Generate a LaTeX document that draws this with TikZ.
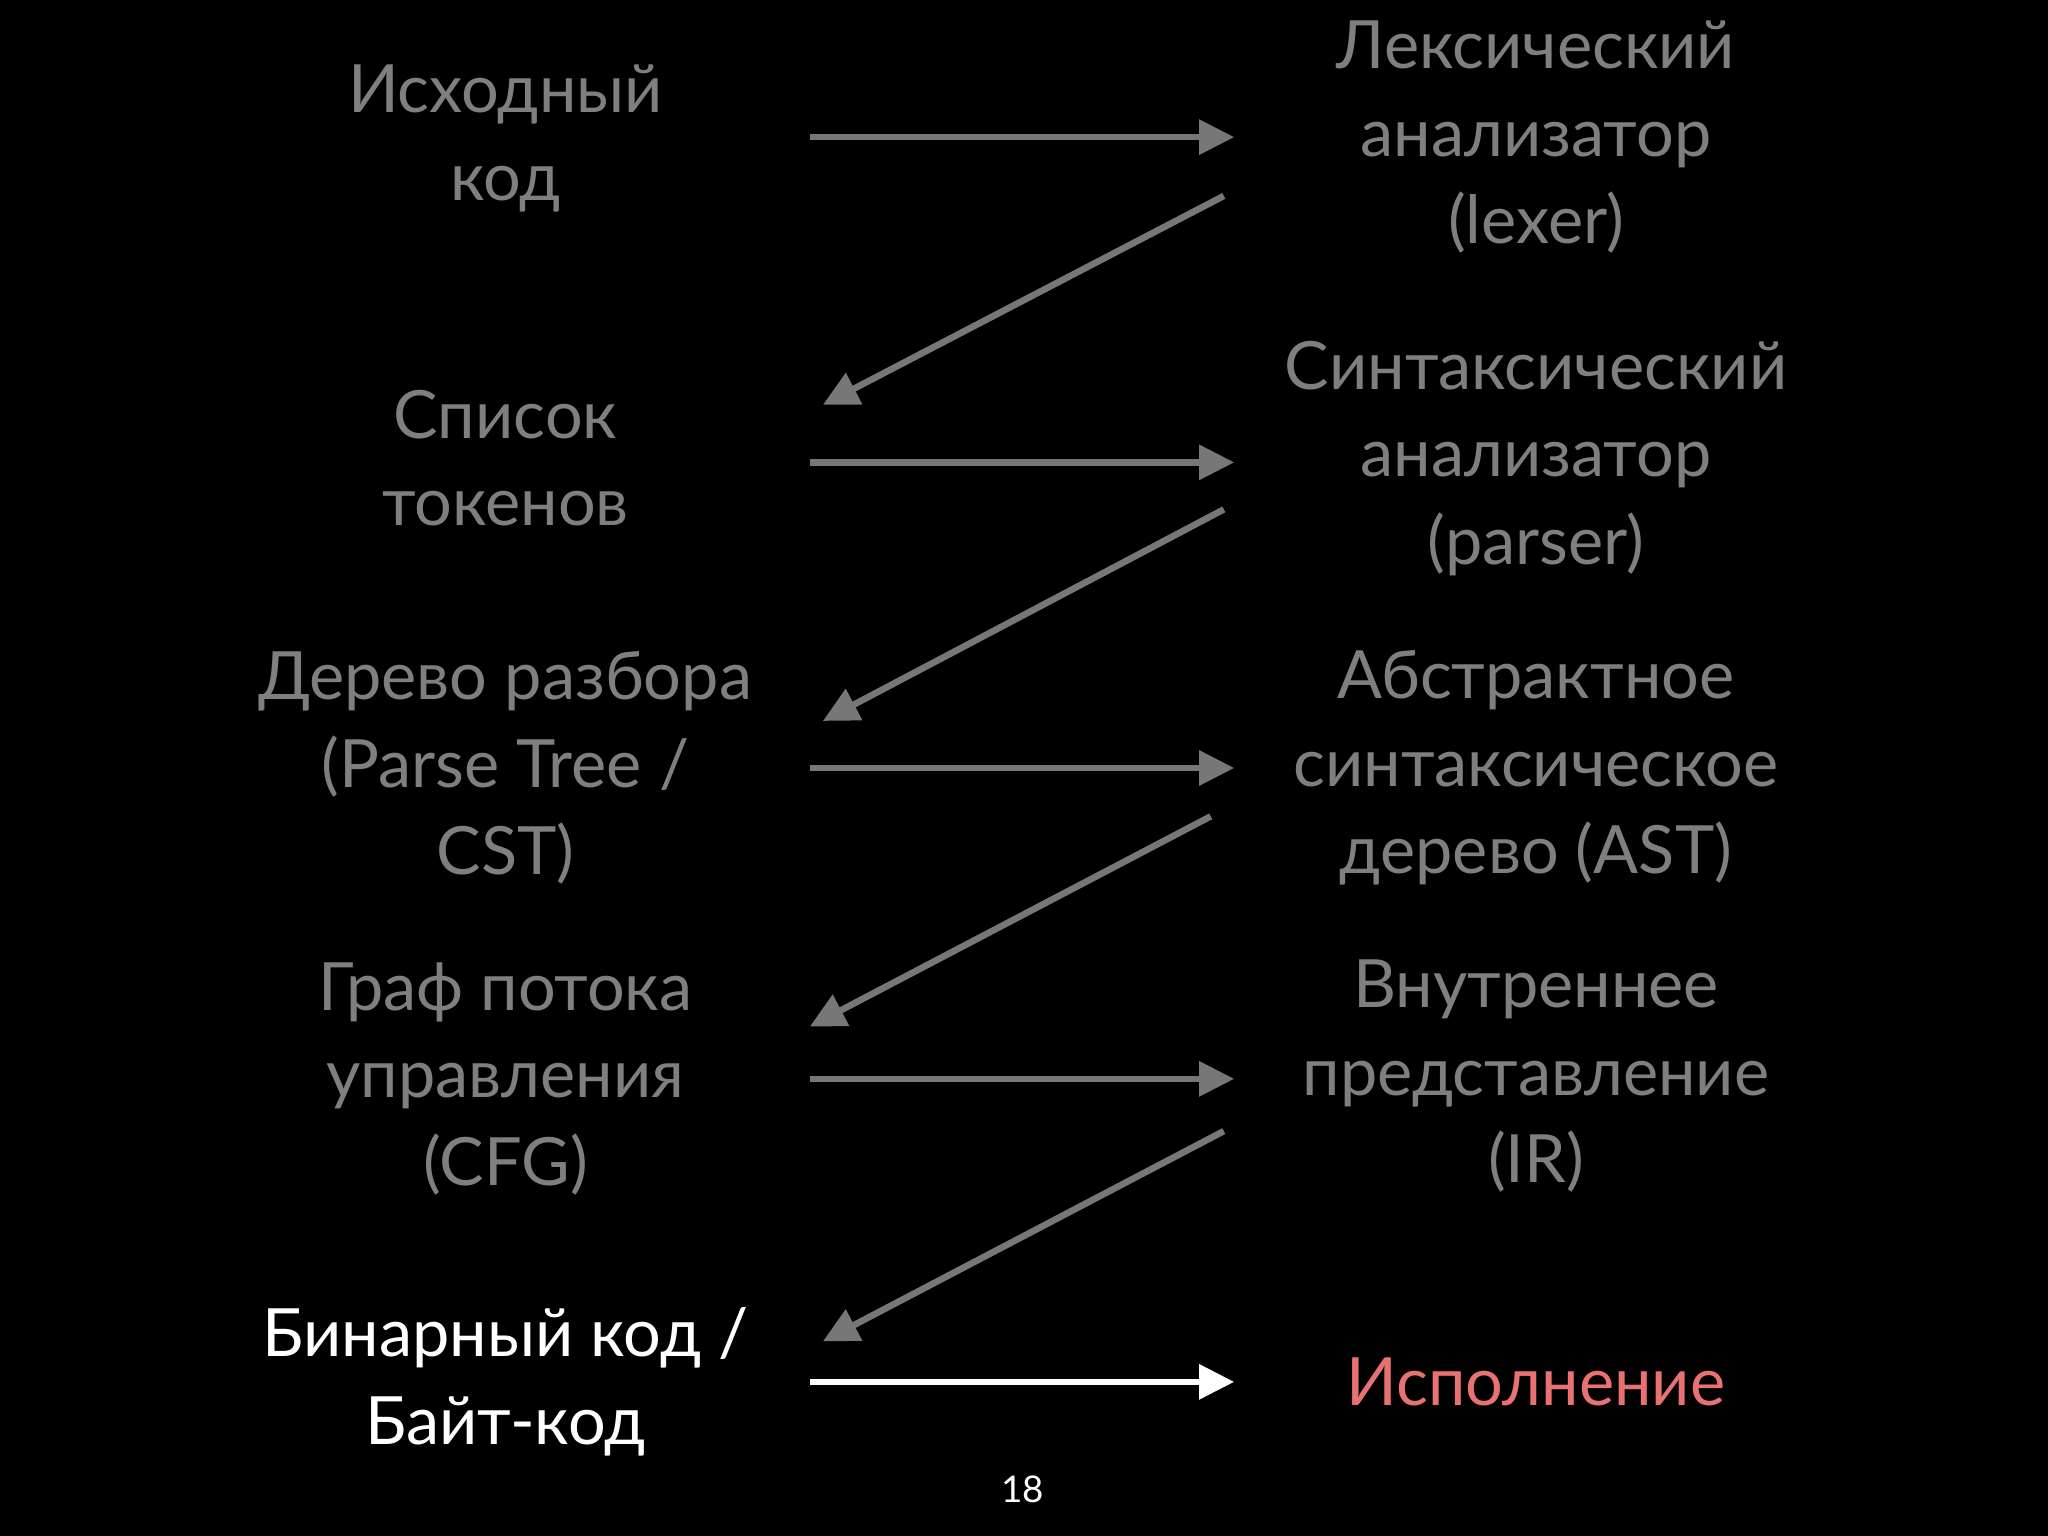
\documentclass[tikz,border=0pt]{standalone}
\usepackage{fontspec}
\setmainfont{Lato}
\usetikzlibrary{arrows.meta}
\definecolor{txt}{HTML}{7F7F7F}
\definecolor{arr}{HTML}{777777}
\definecolor{exec}{HTML}{E87272}
\tikzset{
  lbl/.style={align=center,text=txt,font=\fontsize{14.5pt}{19pt}\selectfont},
  con/.style={draw=arr,line width=0.05cm,-{Triangle[length=0.27cm,width=0.26cm]}}
}
\begin{document}
\begin{tikzpicture}[x=0.01cm,y=-0.01cm]
\fill[black] (0,0) rectangle (1568,1176);
\node[lbl] (src) at (387,106) {Исходный\\код};
\node[lbl] (lex) at (1176,105) {Лексический\\анализатор\\(lexer)};
\node[lbl] (tok) at (387,351) {Список\\токенов};
\node[lbl] (par) at (1176,351) {Синтаксический\\анализатор\\(parser)};
\node[lbl] (cst) at (387,588) {Дерево разбора\\(Parse Tree /\\CST)};
\node[lbl] (ast) at (1176,588) {Абстрактное\\синтаксическое\\дерево (AST)};
\node[lbl] (cfg) at (387,826) {Граф потока\\управления\\(CFG)};
\node[lbl] (ir) at (1176,824) {Внутреннее\\представление\\(IR)};
\node[lbl,text=white] (bin) at (387,1058) {Бинарный код /\\Байт-код};
\node[lbl,text=exec] (exe) at (1176,1058) {Исполнение};
\node[text=white,font=\fontsize{8pt}{10pt}\selectfont] (pg) at (783,1140) {18};
\foreach \y/\n in {105/a,354/b,588/c,826/d}{
  \coordinate (h\n1) at (620,\y); \coordinate (h\n2) at (945,\y);
  \draw[con] (h\n1) -- (h\n2);
}
\coordinate (he1) at (620,1058); \coordinate (he2) at (945,1058);
\draw[con,draw=white] (he1) -- (he2);
\coordinate (d1s) at (937,150); \coordinate (d1e) at (630,310);
\coordinate (d2s) at (937,390); \coordinate (d2e) at (630,552);
\coordinate (d3s) at (927,625); \coordinate (d3e) at (620,786);
\coordinate (d4s) at (937,866); \coordinate (d4e) at (630,1027);
\foreach \i in {1,2,3,4}{\draw[con] (d\i s) -- (d\i e);}
\end{tikzpicture}
\end{document}
